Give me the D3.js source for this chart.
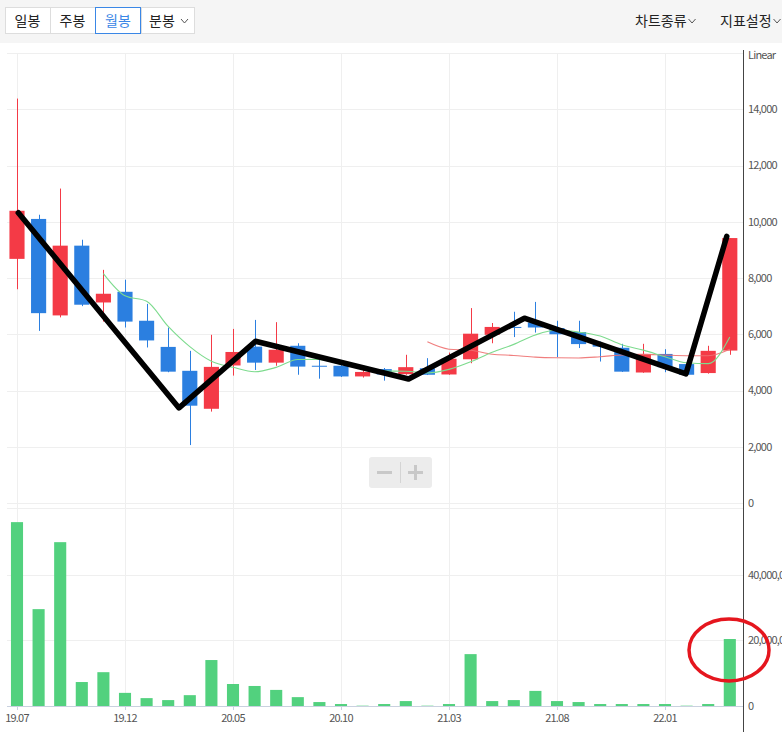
<!DOCTYPE html>
<html><head><meta charset="utf-8">
<script src="https://cdn.jsdelivr.net/npm/d3@7"></script>
<style>
body{margin:0;background:#fff;}
svg{display:block;font-family:"Noto Sans CJK KR","Noto Sans",sans-serif;}
.ax{letter-spacing:-0.8px;}
</style></head>
<body><svg id="c" width="782" height="732"></svg>
<script>
const months = ["19.07","19.08","19.09","19.10","19.11","19.12","20.01","20.02","20.03","20.04","20.05","20.06","20.07","20.08","20.09","20.10","20.11","20.12","21.01","21.02","21.03","21.04","21.05","21.06","21.07","21.08","21.09","21.10","21.11","21.12","22.01","22.02","22.03","22.04"];
const openV  = [8680,10100,6670,9150,7130,7510,6480,5550,4700,3350,4890,5560,4990,5590,4880,4880,4500,4760,4580,4790,4570,5110,5980,6260,6420,6220,6080,5650,5520,4640,5300,4940,4620,5420];
const highV  = [14380,10250,11180,9360,8290,7940,7080,6240,5410,5980,6190,6510,6430,5680,5110,5030,4790,4800,5270,5150,5350,6930,6400,6800,7150,6480,6480,5740,5660,5660,5470,4970,5590,9420];
const lowV   = [7600,6120,6600,7000,6450,6240,5530,4650,2060,3250,4530,4730,4880,4560,4420,4480,4460,4350,4560,4550,4560,4970,5680,5900,6060,5190,5510,5030,4660,4630,4650,4550,4600,5270];
const closeV = [10390,6750,9150,7050,7440,6450,5780,4670,3460,4840,5370,4990,5450,4850,4870,4500,4660,4570,4830,4560,5130,6020,6260,6230,6240,6000,5650,5560,4670,5300,4830,4560,5410,9420];
const volumeV = [56000000,29500000,49900000,7300000,10300000,4000000,2400000,1800000,3300000,14000000,6700000,6100000,4900000,2700000,1200000,600000,100000,600000,1500000,100000,600000,15800000,1500000,1800000,4600000,1500000,1200000,600000,600000,600000,600000,100000,600000,20400000];
// moving averages (null = not drawn)
const ma5  = [null,null,null,null,8156,7368,7174,6278,5560,5040,4824,4666,4822,5100,5106,4932,4866,4690,4686,4624,4750,5022,5360,5640,5976,6150,6076,5936,5624,5436,5202,4984,4954,5904];
const ma20 = [null,null,null,null,null,null,null,null,null,null,null,null,null,null,null,null,null,null,null,5732,5469,5432,5288,5247,5187,5164,5158,5202,5263,5286,5259,5237,5235,5464];
const xTickLabels = ["19.07","19.12","20.05","20.10","21.03","21.08","22.01"];
const priceTicks = [0,2000,4000,6000,8000,10000,12000,14000];
const volumeTicks = [0,20000000,40000000];
// hand-drawn annotation (month position, price)
const annoIdx   = [0.06,7.5,11.04,18.13,23.49,30.97,32.86];
const annoPrice = [10320,3380,5750,4410,6570,4590,9480];

const svg = d3.select("#c");
const UP = "#f43a46", DOWN = "#2b7fe0", GRID = "#efefef";

// toolbar
svg.append("rect").attr("x",0).attr("y",0).attr("width",782).attr("height",43).attr("fill","#f5f5f5");
const btns = [{t:"일봉",x0:5,x1:50},{t:"주봉",x0:50,x1:95},{t:"월봉",x0:95,x1:141,sel:true},{t:"분봉",x0:141,x1:195,chev:true}];
svg.append("rect").attr("x",5.5).attr("y",7.5).attr("width",189).attr("height",26).attr("fill","#fff").attr("stroke","#dddddd");
btns.forEach(b=>{
  if(b.x0>5) svg.append("line").attr("x1",b.x0+0.5).attr("x2",b.x0+0.5).attr("y1",8).attr("y2",34).attr("stroke","#dddddd");
  if(b.sel) svg.append("rect").attr("x",b.x0+0.5).attr("y",7.5).attr("width",b.x1-b.x0-1).attr("height",26).attr("fill","#fff").attr("stroke","#3a87e6");
  const cx = b.chev ? (b.x0+b.x1)/2-6 : (b.x0+b.x1)/2;
  svg.append("text").attr("x",cx).attr("y",25.5).attr("text-anchor","middle").attr("font-size",14)
    .attr("fill",b.sel?"#3a87e6":"#222").text(b.t);
  if(b.chev) svg.append("path").attr("d",`M${cx+19},19 l3.5,4 l3.5,-4`).attr("fill","none").attr("stroke","#555").attr("stroke-width",1);
});
[{t:"차트종류",x:635},{t:"지표설정",x:720}].forEach(m=>{
  const tx = svg.append("text").attr("x",m.x).attr("y",25.5).attr("font-size",14).attr("fill","#222").text(m.t);
  const w = tx.node().getComputedTextLength();
  svg.append("path").attr("d",`M${m.x+w+2},19 l3.5,4 l3.5,-4`).attr("fill","none").attr("stroke","#555").attr("stroke-width",1);
});

// scales
const x = d3.scaleBand().domain(months).range([6.2,740.6]).paddingInner(0).paddingOuter(0);
const xc = m => x(m)+x.bandwidth()/2;
const xi = d3.scaleLinear().domain([0,months.length-1]).range([xc(months[0]), xc(months[months.length-1])]);
const y = d3.scaleLinear().domain([0,16000]).range([503,53]);
const yv = d3.scaleLinear().domain([0,60000000]).range([706,509]);
const axisX = 743;

// grids
const g = svg.append("g");
g.selectAll(".hg").data(priceTicks).join("line").attr("x1",7).attr("x2",axisX).attr("y1",d=>Math.round(y(d))+0.5).attr("y2",d=>Math.round(y(d))+0.5).attr("stroke",GRID);
g.append("line").attr("x1",7).attr("x2",axisX).attr("y1",53.5).attr("y2",53.5).attr("stroke",GRID);
g.append("line").attr("x1",7).attr("x2",axisX).attr("y1",508.5).attr("y2",508.5).attr("stroke",GRID);
g.selectAll(".vg2").data(volumeTicks.slice(1)).join("line").attr("x1",7).attr("x2",axisX).attr("y1",d=>Math.round(yv(d))+0.5).attr("y2",d=>Math.round(yv(d))+0.5).attr("stroke",GRID);
g.selectAll(".vg").data(xTickLabels).join("line").attr("x1",d=>Math.round(xc(d))+0.5).attr("x2",d=>Math.round(xc(d))+0.5).attr("y1",53).attr("y2",706).attr("stroke",GRID);

// candles
const cw = x.bandwidth()*0.7;
const cg = svg.append("g");
months.forEach((m,i)=>{
  const up = closeV[i] >= openV[i];
  const col = up ? UP : DOWN;
  const cx = Math.round(xc(m))+0.5;
  cg.append("line").attr("x1",cx).attr("x2",cx).attr("y1",y(highV[i])).attr("y2",y(lowV[i])).attr("stroke",col).attr("stroke-width",1);
  const top = y(Math.max(openV[i],closeV[i])), bot = y(Math.min(openV[i],closeV[i]));
  cg.append("rect").attr("x",xc(m)-cw/2).attr("y",top).attr("width",cw).attr("height",Math.max(1,bot-top)).attr("fill",col);
});

// moving averages
const lineGen = d3.line().defined(d=>d.v!=null).x(d=>xi(d.i)).y(d=>y(d.v)).curve(d3.curveMonotoneX);
svg.append("path").attr("d",lineGen(ma20.map((v,i)=>({i,v})))).attr("fill","none").attr("stroke","#ee7070").attr("stroke-width",1.1).attr("opacity",0.9);
svg.append("path").attr("d",lineGen(ma5.map((v,i)=>({i,v})))).attr("fill","none").attr("stroke","#7ddb8e").attr("stroke-width",1.1);

// volume
const vw = x.bandwidth()*0.56;
svg.append("g").selectAll("rect").data(volumeV).join("rect")
  .attr("x",(d,i)=>xc(months[i])-vw/2).attr("y",d=>yv(d)).attr("width",vw).attr("height",d=>yv(0)-yv(d)).attr("fill","#52d17e");

// x axis
svg.append("line").attr("x1",7).attr("x2",axisX).attr("y1",706.5).attr("y2",706.5).attr("stroke","#c9d1df");
svg.selectAll(".xt").data(xTickLabels).join("line").attr("x1",d=>Math.round(xc(d))+0.5).attr("x2",d=>Math.round(xc(d))+0.5).attr("y1",706).attr("y2",710).attr("stroke","#c9d1df");
svg.selectAll(".xl").data(xTickLabels).join("text").attr("class","ax").attr("x",d=>xc(d)).attr("y",722).attr("text-anchor","middle")
  .attr("font-size",11).attr("fill","#555").text(d=>d);

// right axis
svg.append("line").attr("x1",axisX+0.5).attr("x2",axisX+0.5).attr("y1",50).attr("y2",732).attr("stroke","#444");
const fmt = d3.format(",");
svg.selectAll(".pl").data(priceTicks).join("text").attr("class","ax").attr("x",748).attr("y",d=>y(d)).attr("dy","0.35em")
  .attr("font-size",11).attr("fill","#555").text(d=>fmt(d));
svg.append("text").attr("class","ax").attr("x",748).attr("y",55).attr("dy","0.35em").attr("font-size",11).attr("fill","#555").text("Linear");
svg.selectAll(".vl").data(volumeTicks).join("text").attr("class","ax").attr("x",748).attr("y",d=>yv(d)).attr("dy","0.35em")
  .attr("font-size",11).attr("fill","#555").text(d=>fmt(d));

// zoom buttons
const zb = svg.append("g");
zb.append("rect").attr("x",369).attr("y",457).attr("width",63).attr("height",31).attr("rx",3).attr("fill","#ececec");
zb.append("line").attr("x1",400.5).attr("x2",400.5).attr("y1",462).attr("y2",483).attr("stroke","#d4d4d4");
zb.append("rect").attr("x",377).attr("y",471).attr("width",15).attr("height",3).attr("fill","#c8c8c8");
zb.append("rect").attr("x",408).attr("y",471).attr("width",15).attr("height",3).attr("fill","#c8c8c8");
zb.append("rect").attr("x",414).attr("y",465).attr("width",3).attr("height",15).attr("fill","#c8c8c8");

// annotation
const annoLine = d3.line().x(d=>xi(d[0])).y(d=>y(d[1]));
svg.append("path").attr("d",annoLine(annoIdx.map((v,i)=>[v,annoPrice[i]]))).attr("fill","none")
  .attr("stroke","#000").attr("stroke-width",5.5).attr("stroke-linejoin","round").attr("stroke-linecap","round");
svg.append("ellipse").attr("cx",729).attr("cy",650).attr("rx",40).attr("ry",31).attr("fill","none").attr("stroke","#e5161e").attr("stroke-width",3.5);
</script></body></html>
